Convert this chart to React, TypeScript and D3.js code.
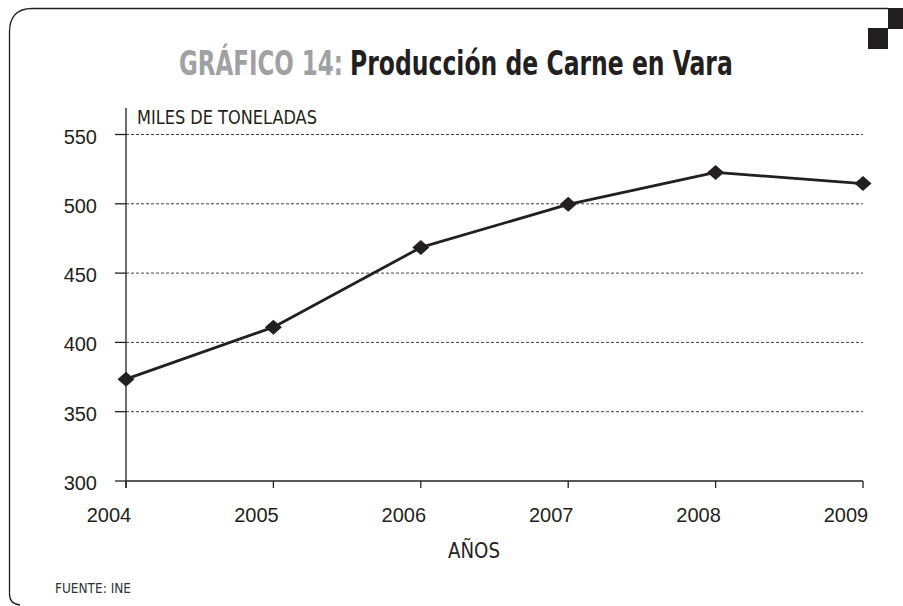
import React, { useLayoutEffect, useRef, useState } from "react";
import * as d3 from "d3";

const years = [2004, 2005, 2006, 2007, 2008, 2009];
const production = [373.5, 411, 468.5, 499.6, 522.6, 514.6];
const yTicks = [300, 350, 400, 450, 500, 550];
const gridTicks = [350, 400, 450, 500, 550];

const INK = "#231f20";

function FitText(props: { x: number; y: number; width: number; anchor?: string; children: string; [k: string]: any }) {
  const { x, y, width, anchor, children, ...rest } = props;
  const ref = useRef<SVGTextElement>(null);
  const [s, setS] = useState(1);
  useLayoutEffect(() => {
    if (ref.current) {
      const w = ref.current.getComputedTextLength();
      if (w > 0) setS(width / w);
    }
  }, [width, children]);
  return (
    <g transform={`translate(${x},${y}) scale(${s},1)`}>
      <text ref={ref} x={0} y={0} textAnchor={anchor || "start"} {...rest}>{children}</text>
    </g>
  );
}

export default function App() {
  const W = 903, H = 606;
  const x = d3.scaleLinear().domain([2004, 2009]).range([126, 863]);
  const y = d3.scaleLinear().domain([300, 550]).range([481, 134.5]);
  const line = d3.line<number>()
    .x((_, i) => x(years[i]))
    .y((d) => y(d));
  const pts = production.map((v, i) => [x(years[i]), y(v)]);
  const narrow = "'Liberation Sans Narrow', 'DejaVu Sans Condensed', 'Liberation Sans', sans-serif";
  const reg = "'Liberation Sans', Arial, sans-serif";
  return (
    <svg width={W} height={H} style={{ position: "absolute", left: 0, top: 0, background: "#fff" }}>
      {/* frame */}
      <path d="M888,8.5 L32,8.5 Q9.5,8.5 9.5,32 L9.5,594 Q9.5,604 20,605" fill="none" stroke={INK} strokeWidth={1.3} />
      <rect x={888} y={8} width={15} height={21} fill={INK} />
      <rect x={868} y={28} width={20} height={21} fill={INK} />

      {/* title */}
      <FitText x={179} y={75} width={164} fontFamily={narrow} fontWeight="bold" fontSize={33} fill="#a0a1a4">GRÁFICO 14:</FitText>
      <FitText x={350} y={75} width={383} fontFamily={narrow} fontWeight="bold" fontSize={33} fill={INK}>Producción de Carne en Vara</FitText>

      {/* grid */}
      {gridTicks.map((t) => (
        <line key={t} x1={126} x2={863} y1={y(t)} y2={y(t)} stroke="#444" strokeWidth={1} strokeDasharray="3,2" />
      ))}

      {/* axes */}
      <line x1={126} x2={126} y1={108} y2={488} stroke={INK} strokeWidth={1.3} />
      <line x1={126} x2={863} y1={481} y2={481} stroke={INK} strokeWidth={1.3} />
      {yTicks.map((t) => (
        <g key={t}>
          <line x1={115} x2={126} y1={y(t)} y2={y(t)} stroke={INK} strokeWidth={1.3} />
          <text x={97} y={y(t) + 9} textAnchor="end" fontFamily={reg} fontSize={20} fill={INK}>{t}</text>
        </g>
      ))}
      {years.map((yr) => (
        <g key={yr}>
          <line x1={x(yr)} x2={x(yr)} y1={481} y2={488} stroke={INK} strokeWidth={1.3} />
          <text x={x(yr) - 17} y={522} textAnchor="middle" fontFamily={reg} fontSize={20} fill={INK}>{yr}</text>
        </g>
      ))}

      <FitText x={137} y={124} width={180} fontFamily={narrow} fontSize={19} fill={INK}>MILES DE TONELADAS</FitText>
      <FitText x={474} y={558} width={52} anchor="middle" fontFamily={narrow} fontSize={21} fill={INK}>AÑOS</FitText>
      <FitText x={55} y={593} width={76} fontFamily={narrow} fontSize={14.5} fill="#333">FUENTE: INE</FitText>

      {/* series */}
      <path d={line(production) || ""} fill="none" stroke={INK} strokeWidth={2.8} strokeLinejoin="round" />
      {pts.map(([px, py], i) => (
        <path key={i} d={`M${px},${py - 7.5} L${px + 8.5},${py} L${px},${py + 7.5} L${px - 8.5},${py} Z`} fill={INK} />
      ))}
    </svg>
  );
}
